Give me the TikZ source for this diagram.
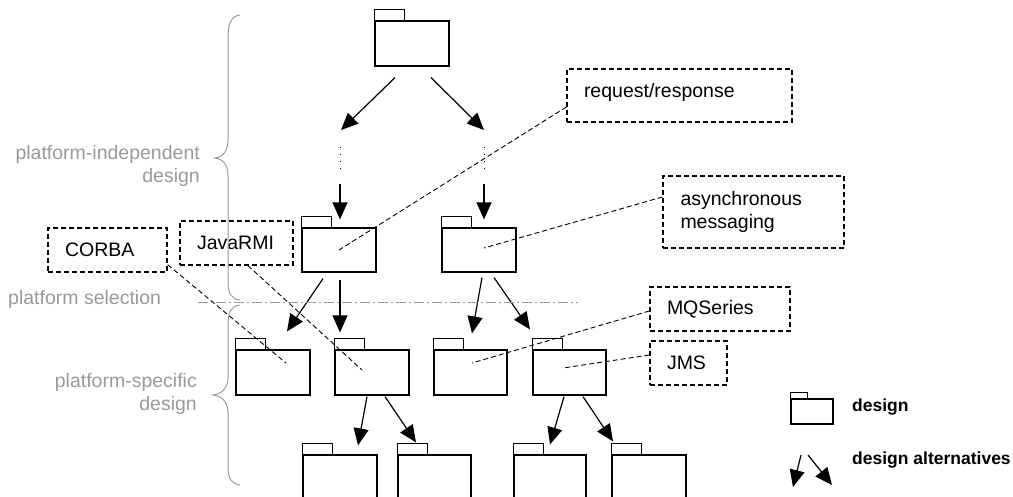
\documentclass[tikz,border=0pt]{standalone}
\usepackage{fontspec}
\setmainfont{Liberation Sans}
\usetikzlibrary{arrows.meta}
\begin{document}
\begin{tikzpicture}[x=1pt,y=-1pt,
  folder/.style={draw, line width=1.2pt, minimum width=74pt, minimum height=45pt, inner sep=0pt},
  tabline/.style={draw, line width=1.2pt},
  alt/.style={line width=1.2pt, -{Triangle[length=17pt,width=15pt]}},
  dotline/.style={line width=0.8pt, dash pattern=on 1pt off 6pt},
  note/.style={draw, line width=1.3pt, dash pattern=on 5pt off 3pt, inner xsep=17pt, inner ysep=0pt, align=left,
     font=\fontsize{19.5}{23}\selectfont},
  link/.style={line width=0.9pt, dash pattern=on 5pt off 3pt},
  graytext/.style={text=black!40, font=\fontsize{19.5}{23}\selectfont, inner sep=0pt},
  brace/.style={draw=black!40, line width=1pt},
  legendtext/.style={font=\fontsize{17.5}{21}\selectfont\bfseries, inner sep=0pt, anchor=west}
]
\useasboundingbox (0,0) rectangle (1013,497);

% folders
\node[folder] (f0) at (412,43.5) {};
\node[folder, minimum height=44pt] (a) at (339,250) {};
\node[folder, minimum height=44pt] (b) at (479,250) {};
\node[folder] (c1) at (273,372.5) {};
\node[folder] (c2) at (372,372.5) {};
\node[folder, minimum width=73pt] (c3) at (470.5,372.5) {};
\node[folder, minimum width=73pt] (c4) at (569.5,372.5) {};
\begin{scope}
\clip (0,0) rectangle (1013,497);
\node[folder, minimum height=50pt] (d1) at (340,480) {};
\node[folder, minimum height=50pt, minimum width=73pt] (d2) at (434.5,480) {};
\node[folder, minimum height=50pt, minimum width=72pt] (d3) at (550,480) {};
\node[folder, minimum height=50pt] (d4) at (649,480) {};
\end{scope}
\foreach \n in {f0,a,b,c1,c2,c3,c4,d1,d2,d3,d4}
  \draw[tabline] (\n.north west) rectangle ++(30,-11);

% top alternatives
\coordinate (t1) at (341,130);
\coordinate (t2) at (484,130);
\draw[alt] ([shift={(-17,11)}]f0.south) -- (t1);
\draw[alt] ([shift={(19,11)}]f0.south) -- (t2);
\coordinate (d1a) at (340,147); \coordinate (d1b) at (340,172);
\coordinate (d2a) at (484,147); \coordinate (d2b) at (484,172);
\draw[dotline] (d1a) -- (d1b);
\draw[dotline] (d2a) -- (d2b);
\draw[alt] ([shift={(1,-43)}]a.north) -- ([shift={(1,-8)}]a.north);
\draw[alt] ([shift={(5,-43)}]b.north) -- ([shift={(5,-8)}]b.north);

% row 2 -> row 3
\draw[alt] ([shift={(-16,6)}]a.south) -- ([shift={(14,-18)}]c1.north);
\draw[alt] ([shift={(1,7)}]a.south) -- ([shift={(-32,-17)}]c2.north);
\draw[alt] ([shift={(3,5)}]b.south) -- ([shift={(1.5,-16)}]c3.north);
\draw[alt] ([shift={(15,5)}]b.south) -- ([shift={(-39.5,-20)}]c4.north);
% row 3 -> row 4
\draw[alt] ([shift={(-5,1)}]c2.south) -- ([shift={(18,-9)}]d1.north);
\draw[alt] ([shift={(13,1)}]c2.south) -- ([shift={(-18.5,-12)}]d2.north);
\draw[alt] ([shift={(-5.5,1)}]c4.south) -- ([shift={(0,-10)}]d3.north);
\draw[alt] ([shift={(13.5,1)}]c4.south) -- ([shift={(-36,-13)}]d4.north);

% notes
\node[note, minimum width=225pt, minimum height=53pt, text width=191pt] (rr) at (679.5,95.5) {\raisebox{11pt}{request/response}};
\node[note, minimum width=181pt, minimum height=72pt, text width=146pt] (am) at (753.5,212) {asynchronous\\messaging};
\node[note, minimum width=119pt, minimum height=44pt, text width=85pt] (corba) at (107.5,250) {CORBA};
\node[note, minimum width=113pt, minimum height=44pt, text width=79pt] (rmi) at (236.5,243) {JavaRMI};
\node[note, minimum width=140pt, minimum height=44pt, text width=106pt] (mq) at (720,309) {MQSeries};
\node[note, minimum width=77pt, minimum height=44pt, text width=43pt] (jms) at (688.5,363) {JMS};

\draw[link] ([shift={(0,11.5)}]rr.west) -- (a.center);
\draw[link] ([shift={(0,-15)}]am.west) -- ([shift={(5,-2)}]b.center);
\draw[link] ([shift={(0,-8)}]corba.south east) -- ([shift={(13,-9.5)}]c1.center);
\draw[link] ([shift={(11.5,0)}]rmi.south) -- ([shift={(-10,-2.5)}]c2.center);
\draw[link] ([shift={(0,2)}]mq.west) -- ([shift={(1.5,-9.5)}]c3.center);
\draw[link] ([shift={(0,-8)}]jms.west) -- ([shift={(-6.5,-4.5)}]c4.center);

% braces and phases
\draw[brace] (240,15) .. controls (231,16) and (228,24) .. (228,38) -- (228,140)
  .. controls (228,151) and (223,157) .. (215,158) .. controls (223,159) and (228,165) .. (228,176)
  -- (228,282) .. controls (228,294) and (232,299) .. (240,300);
\draw[brace] (240,305) .. controls (231,306) and (228,312) .. (228,324) -- (228,377)
  .. controls (228,388) and (222,394) .. (213,395) .. controls (222,396) and (228,402) .. (228,413)
  -- (228,467) .. controls (228,479) and (232,484) .. (240,485);
\coordinate (sa) at (198,303);
\coordinate (sb) at (578,303);
\draw[draw=black!40, line width=1pt, dash pattern=on 10pt off 3pt on 2pt off 3pt] (sa) -- (sb);
\node[graytext, anchor=east, align=right] (pid) at (200,165.5) {platform-independent\\design};
\node[graytext, anchor=west] (psel) at (8,299) {platform selection};
\node[graytext, anchor=east, align=right] (psd) at (197,394) {platform-specific\\design};

% legend
\node[folder, minimum width=42pt, minimum height=25pt] (lf) at (812,411.5) {};
\draw[tabline] (lf.north west) rectangle ++(17,-6);
\node[legendtext] (ld) at (852,407) {design};
\coordinate (l1s) at (801,455); \coordinate (l1e) at (793,487);
\coordinate (l2s) at (808,455); \coordinate (l2e) at (832,485);
\draw[alt] (l1s) -- (l1e);
\draw[alt] (l2s) -- (l2e);
\node[legendtext] (la) at (852,460) {design alternatives};
\end{tikzpicture}
\end{document}
